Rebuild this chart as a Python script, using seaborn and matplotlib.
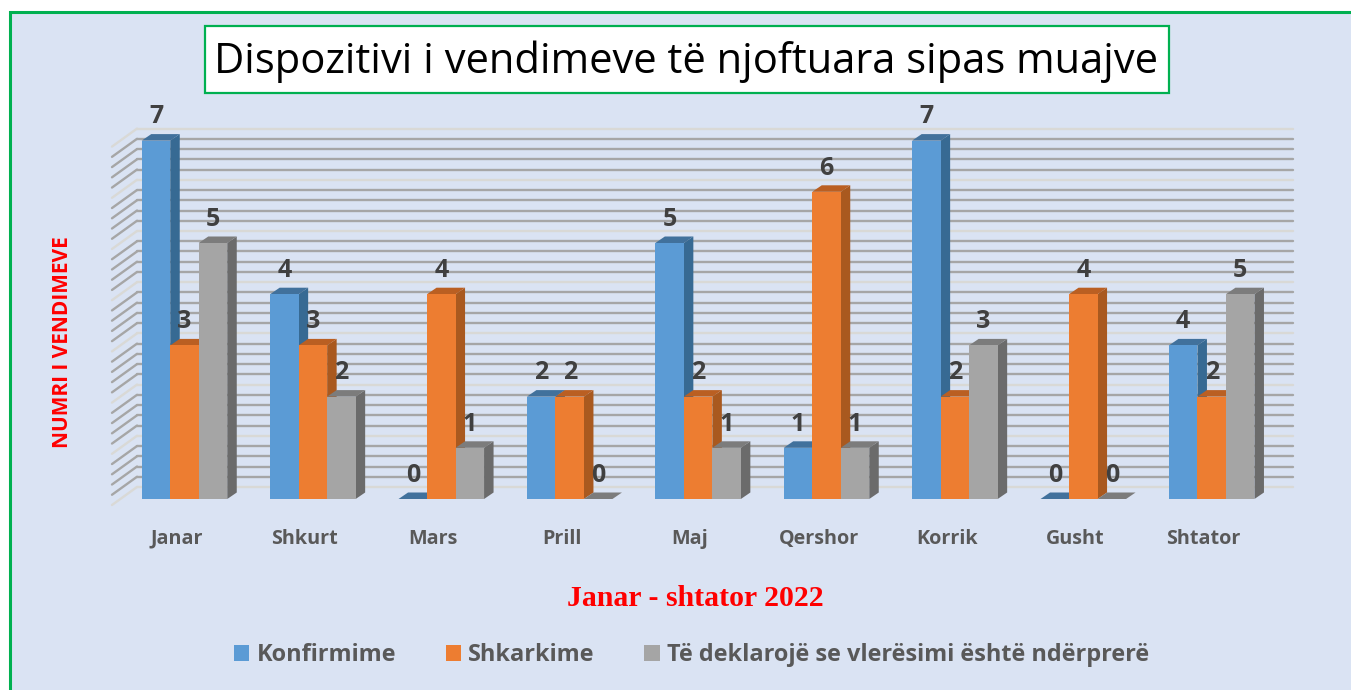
import numpy as np
import pandas as pd
import seaborn as sns
from matplotlib import pyplot as plt
from matplotlib.patches import Polygon, Rectangle
from matplotlib.transforms import Affine2D

months = ['Janar', 'Shkurt', 'Mars', 'Prill', 'Maj', 'Qershor', 'Korrik', 'Gusht', 'Shtator']
series_names = ['Konfirmime', 'Shkarkime', 'Të deklarojë se vlerësimi është ndërprerë']
konfirmime = [7, 4, 0, 2, 5, 1, 7, 0, 3]
shkarkime = [3, 3, 4, 2, 2, 6, 2, 4, 2]
nderprere = [5, 2, 1, 0, 1, 1, 3, 0, 4]
# the source chart prints 4 and 5 above the last blue and grey bars
konfirmime_labels = [7, 4, 0, 2, 5, 1, 7, 0, 4]
shkarkime_labels = [3, 3, 4, 2, 2, 6, 2, 4, 2]
nderprere_labels = [5, 2, 1, 0, 1, 1, 3, 0, 5]

colors = ['#5B9BD5', '#ED7D31', '#A5A5A5']
side_colors = ['#376A93', '#A9591F', '#6B6B6B']
top_colors = ['#41719C', '#BA5F22', '#7C7C7C']

W, H = 1351, 690
PX_X = 128.4  # pixels per category
PX_Y = 51.2  # pixels per unit
X0, Y0 = 184.5, 499  # pixel of category 0 and of value 0

sns.set_theme(style='white')
plt.rcParams['font.family'] = ['Open Sans', 'DejaVu Sans']

fig = plt.figure(figsize=(W / 100, H / 100), dpi=100, facecolor='white')
px = Affine2D().scale(1, -1).translate(0, H)  # pixel coords, y down

fig.add_artist(Rectangle((9.5, 11.5), W, H, transform=px, fc='#DAE3F3', ec='#00B050', lw=2.2, zorder=-2))
fig.add_artist(Rectangle((205, 25.5), 964, 67, transform=px, fc='white', ec='#00B050', lw=1.6, zorder=-1))
fig.text(686, 61.5, 'Dispozitivi i vendimeve të njoftuara sipas muajve', transform=px,
         ha='center', va='center', fontsize=30, color='black')

ax = fig.add_axes([112 / W, (H - 505) / H, (1293 - 112) / W, (505 - 120) / H])
ax.patch.set_alpha(0)

df = pd.DataFrame({
    'muaji': months * 3,
    'dispozitivi': np.repeat(series_names, len(months)),
    'vendime': konfirmime + shkarkime + nderprere,
})
sns.barplot(data=df, x='muaji', y='vendime', hue='dispozitivi', palette=colors, width=0.666,
            gap=0, saturation=1, linewidth=0, ax=ax)

ax.set_xlim((112 - X0) / PX_X, (1293 - X0) / PX_X)
ax.set_ylim((Y0 - 505) / PX_Y, (Y0 - 120) / PX_Y)

# back wall and side wall
levels = np.arange(36) / 5
back = 12 / PX_Y
front = 6 / PX_Y
x_left, x_back, x_right = ax.get_xlim()[0], (137 - X0) / PX_X, ax.get_xlim()[1]
for i, lev in enumerate(levels):
    c = '#D9D9D6' if i % 5 == 0 else '#A6A6A6'
    ax.plot([x_back, x_right], [lev + back, lev + back], color=c, lw=1.7, zorder=1, clip_on=False)
    ax.plot([x_left, x_back], [lev - front, lev + back], color=c, lw=1.7, zorder=1, clip_on=False)

# fake 3d depth on every bar, left to right so neighbours overlap properly
dx, dy = 9.5 / PX_X, 6.5 / PX_Y
bars = []
for k, cont in enumerate(ax.containers):
    bars += [(b, k) for b in cont]
bars.sort(key=lambda item: item[0].get_x())
for n, (bar, k) in enumerate(bars):
    x, w, h = bar.get_x(), bar.get_width(), bar.get_height()
    z = 3 + n * 0.01
    ax.add_patch(Polygon([(x + w, 0), (x + w + dx, dy), (x + w + dx, h + dy), (x + w, h)],
                         fc=side_colors[k], ec='none', zorder=z, clip_on=False))
    ax.add_patch(Polygon([(x, h), (x + dx, h + dy), (x + w + dx, h + dy), (x + w, h)],
                         fc=top_colors[k], ec='none', zorder=z, clip_on=False))
    bar.set_zorder(z + 0.001)
    bar.set_clip_on(False)

all_labels = [konfirmime_labels, shkarkime_labels, nderprere_labels]
for cont, labs in zip(ax.containers, all_labels):
    ax.bar_label(cont, labels=labs, padding=8, fontsize=18, fontweight='bold', color='#404040',
                 zorder=10, clip_on=False)

sns.despine(ax=ax, left=True, bottom=True)
ax.set_yticks([])
ax.set_xticks(np.arange(len(months)) - 8 / PX_X, labels=months)
ax.tick_params(axis='x', length=0, pad=28, labelsize=14.2, labelcolor='#595959')
for lab in ax.get_xticklabels():
    lab.set_fontweight('bold')
    lab.set_va('baseline')

ax.set_xlabel('Janar - shtator 2022', family='Liberation Serif', fontweight='bold', fontsize=21.4, color='#FF0000')
ax.xaxis.set_label_coords(695, 599, transform=px)
ax.xaxis.label.set_va('center')
ax.set_ylabel('NUMRI I VENDIMEVE', fontweight='bold', fontsize=15, color='#FF0000')
ax.yaxis.set_label_coords(63, 342, transform=px)
ax.yaxis.label.set_va('center')

sns.move_legend(ax, loc='center', bbox_to_anchor=(691.5, 655), bbox_transform=px, ncol=3, title=None,
                frameon=False, handlelength=0.65, handleheight=0.65, handletextpad=0.32,
                columnspacing=2.1, prop={'weight': 'bold', 'size': 16.95})
for t in ax.get_legend().get_texts():
    t.set_color('#595959')

plt.savefig('out.png', dpi=100)
